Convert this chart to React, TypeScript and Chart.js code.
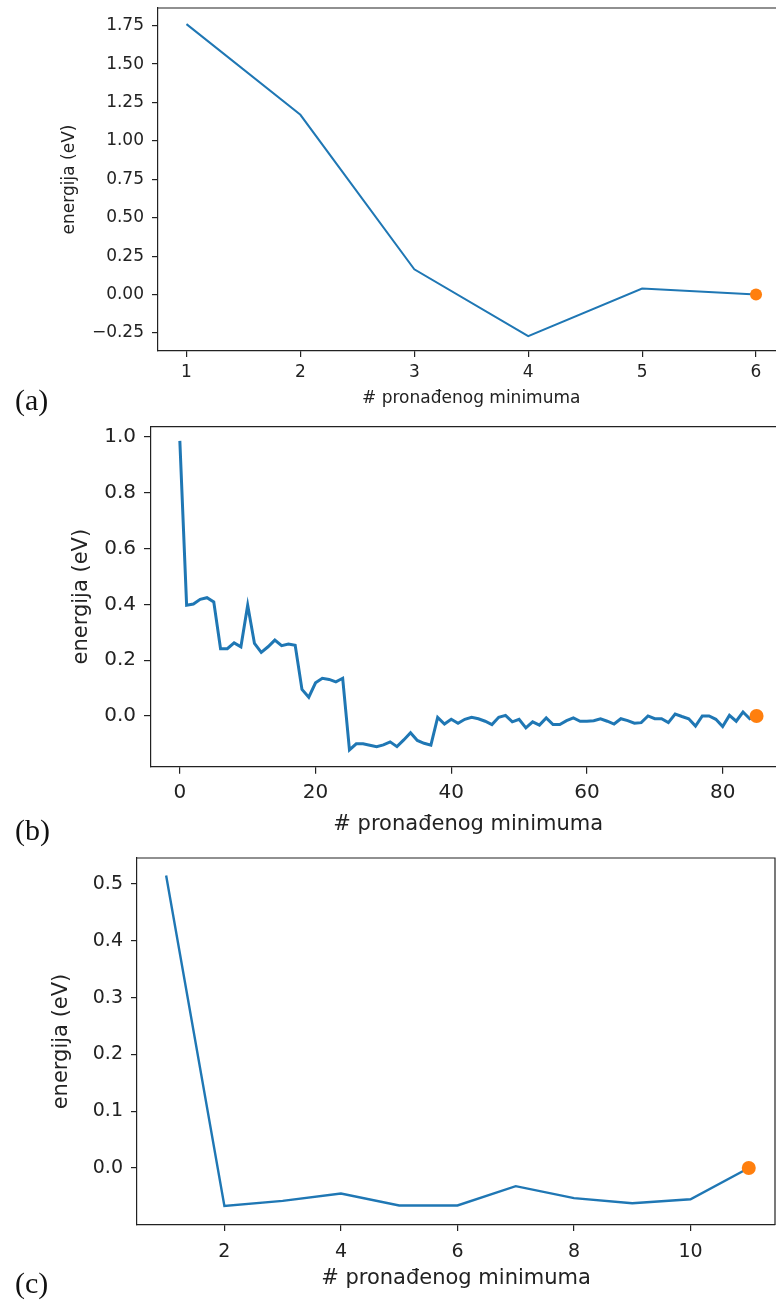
import React, { useEffect, useRef } from "react";
import { Chart, registerables } from "chart.js";

Chart.register(...registerables);

// ---------- Panel (a) ----------
const minimaA = [1, 2, 3, 4, 5, 6];
const energyA = [1.76, 1.17, 0.165, -0.27, 0.04, 0.0];
const xTicksA = [1, 2, 3, 4, 5, 6];
const yTicksA = [-0.25, 0, 0.25, 0.5, 0.75, 1.0, 1.25, 1.5, 1.75];

// ---------- Panel (b) ----------
const energyB = [
  0.986, 0.397, 0.401, 0.418, 0.424, 0.409, 0.241, 0.241, 0.262, 0.248,
  0.397, 0.26, 0.228, 0.248, 0.272, 0.252, 0.258, 0.253, 0.095, 0.067,
  0.119, 0.135, 0.131, 0.122, 0.135, -0.122, -0.1, -0.1, -0.105, -0.11,
  -0.104, -0.093, -0.11, -0.086, -0.06, -0.088, -0.098, -0.105, -0.005, -0.029,
  -0.012, -0.026, -0.012, -0.005, -0.01, -0.019, -0.031, -0.005, 0.002, -0.021,
  -0.012, -0.043, -0.021, -0.033, -0.007, -0.031, -0.031, -0.017, -0.007, -0.019,
  -0.019, -0.017, -0.01, -0.019, -0.029, -0.01, -0.017, -0.026, -0.024, 0.0,
  -0.01, -0.01, -0.024, 0.007, -0.002, -0.01, -0.036, 0.0, 0.0, -0.012,
  -0.038, 0.002, -0.019, 0.014, -0.01, 0.0,
];
const minimaB = energyB.map((_, i) => i);
const xTicksB = [0, 20, 40, 60, 80];
const yTicksB = [0, 0.2, 0.4, 0.6, 0.8, 1.0];

// ---------- Panel (c) ----------
const minimaC = [1, 2, 3, 4, 5, 6, 7, 8, 9, 10, 11];
const energyC = [0.515, -0.067, -0.058, -0.045, -0.066, -0.066, -0.032, -0.053, -0.062, -0.055, 0.0];
const xTicksC = [2, 4, 6, 8, 10];
const yTicksC = [0, 0.1, 0.2, 0.3, 0.4, 0.5];

const X_LABEL = "# pronađenog minimuma";
const Y_LABEL = "energija (eV)";
const SANS = "'DejaVu Sans', sans-serif";
const INK = "#222";

type PanelProps = {
  xs: number[];
  ys: number[];
  xTicks: number[];
  yTicks: number[];
  xDec: number;
  yDec: number;
  top: number;
  width: number;
  height: number;
  area: { left: number; top: number; right: number; bottom: number };
  xRange: [number, number];
  yRange: [number, number];
  font: number;
  titleFont: number;
  tickLen: number;
  yTickPad: number;
  xTickPad: number;
  yTitleX: number;
  xTitleY: number;
  lineWidth: number;
  dotR: number;
};

const fmt = (v: number, d: number) => (v < 0 ? "\u2212" : "") + Math.abs(v).toFixed(d);

const framePlugin = {
  id: "frame",
  afterDraw(chart: any) {
    const { ctx, chartArea } = chart;
    ctx.save();
    ctx.strokeStyle = INK;
    ctx.lineWidth = 1.2;
    ctx.beginPath();
    ctx.moveTo(chartArea.left, chartArea.top);
    ctx.lineTo(chartArea.right, chartArea.top);
    ctx.lineTo(chartArea.right, chartArea.bottom);
    ctx.stroke();
    ctx.restore();
  },
};

function Panel(p: PanelProps) {
  const ref = useRef<HTMLCanvasElement>(null);
  useEffect(() => {
    const c = ref.current;
    if (!c) return;
    const lh = p.titleFont * 1.2;
    const chart = new Chart(c, {
      type: "line",
      data: {
        datasets: [
          {
            data: p.xs.map((x, i) => ({ x, y: p.ys[i] })),
            borderColor: "#1f77b4",
            borderWidth: p.lineWidth,
            pointRadius: 0,
            tension: 0,
            fill: false,
            order: 2,
          },
          {
            data: [{ x: p.xs[p.xs.length - 1], y: p.ys[p.ys.length - 1] }],
            pointRadius: p.dotR,
            pointBackgroundColor: "#ff7f0e",
            pointBorderWidth: 0,
            borderWidth: 0,
            showLine: false,
            clip: false,
            order: 1,
          },
        ],
      },
      options: {
        animation: false,
        responsive: false,
        devicePixelRatio: 1,
        layout: {
          autoPadding: false,
          padding: { left: 0, top: p.area.top, right: p.width - p.area.right, bottom: 0 },
        },
        plugins: { legend: { display: false }, tooltip: { enabled: false } },
        scales: {
          x: {
            type: "linear",
            min: p.xRange[0],
            max: p.xRange[1],
            afterBuildTicks: (s: any) => {
              s.ticks = p.xTicks.map((v) => ({ value: v }));
            },
            afterFit: (s: any) => {
              s.height = p.height - p.area.bottom;
              s.paddingLeft = 0;
              s.paddingRight = 0;
            },
            ticks: {
              autoSkip: false,
              maxRotation: 0,
              padding: p.xTickPad,
              color: INK,
              font: { family: SANS, size: p.font },
              callback: (v: any) => fmt(Number(v), p.xDec),
            },
            grid: { display: true, drawOnChartArea: false, drawTicks: true, tickLength: p.tickLen, color: INK, lineWidth: 1.2 },
            border: { display: true, color: INK, width: 1.2 },
            title: {
              display: true,
              text: X_LABEL,
              color: INK,
              font: { family: SANS, size: p.titleFont },
              padding: { top: 0, bottom: p.height - p.xTitleY - lh / 2 },
            },
          },
          y: {
            type: "linear",
            min: p.yRange[0],
            max: p.yRange[1],
            afterBuildTicks: (s: any) => {
              s.ticks = p.yTicks.map((v) => ({ value: v }));
            },
            afterFit: (s: any) => {
              s.width = p.area.left;
              s.paddingTop = 0;
              s.paddingBottom = 0;
            },
            ticks: {
              autoSkip: false,
              padding: p.yTickPad,
              color: INK,
              font: { family: SANS, size: p.font },
              callback: (v: any) => fmt(Number(v), p.yDec),
            },
            grid: { display: true, drawOnChartArea: false, drawTicks: true, tickLength: p.tickLen, color: INK, lineWidth: 1.2 },
            border: { display: true, color: INK, width: 1.2 },
            title: {
              display: true,
              text: Y_LABEL,
              color: INK,
              font: { family: SANS, size: p.titleFont },
              padding: { top: p.yTitleX - lh / 2, bottom: 0 },
            },
          },
        },
      },
      plugins: [framePlugin],
    } as any);
    return () => chart.destroy();
  }, []);
  return (
    <canvas
      ref={ref}
      width={p.width}
      height={p.height}
      style={{ position: "absolute", left: 0, top: p.top, width: p.width, height: p.height }}
    />
  );
}

const labelStyle = (top: number): React.CSSProperties => ({
  position: "absolute",
  left: 15,
  top,
  fontFamily: "'Liberation Serif', serif",
  fontSize: 30,
  lineHeight: "30px",
  color: "#111",
});

export default function App() {
  return (
    <div
      style={{
        position: "absolute",
        left: 0,
        top: 0,
        width: 776,
        height: 1302,
        overflow: "hidden",
        background: "#fff",
      }}
    >
      <Panel
        xs={minimaA}
        ys={energyA}
        xTicks={xTicksA}
        yTicks={yTicksA}
        xDec={0}
        yDec={2}
        top={0}
        width={800}
        height={420}
        area={{ left: 158, top: 8, right: 784.5, bottom: 351 }}
        xRange={[0.75, 6.25]}
        yRange={[-0.367, 1.865]}
        font={17}
        titleFont={17}
        tickLen={6}
        yTickPad={8}
        xTickPad={5}
        yTitleX={70}
        xTitleY={399}
        lineWidth={2}
        dotR={6}
      />
      <Panel
        xs={minimaB}
        ys={energyB}
        xTicks={xTicksB}
        yTicks={yTicksB}
        xDec={0}
        yDec={1}
        top={420}
        width={800}
        height={430}
        area={{ left: 151, top: 6.7, right: 785.4, bottom: 346.7 }}
        xRange={[-4.25, 89.25]}
        yRange={[-0.182, 1.037]}
        font={20}
        titleFont={21}
        tickLen={7}
        yTickPad={8}
        xTickPad={7}
        yTitleX={82}
        xTitleY={405}
        lineWidth={3}
        dotR={7}
      />
      <Panel
        xs={minimaC}
        ys={energyC}
        xTicks={xTicksC}
        yTicks={yTicksC}
        xDec={0}
        yDec={1}
        top={850}
        width={776}
        height={452}
        area={{ left: 137, top: 8, right: 775, bottom: 375 }}
        xRange={[0.5, 11.45]}
        yRange={[-0.1004, 0.5458]}
        font={19}
        titleFont={21}
        tickLen={6}
        yTickPad={8}
        xTickPad={10}
        yTitleX={62}
        xTitleY={429}
        lineWidth={2.4}
        dotR={7}
      />
      <div style={labelStyle(385)}>(a)</div>
      <div style={labelStyle(815)}>(b)</div>
      <div style={labelStyle(1268)}>(c)</div>
    </div>
  );
}
